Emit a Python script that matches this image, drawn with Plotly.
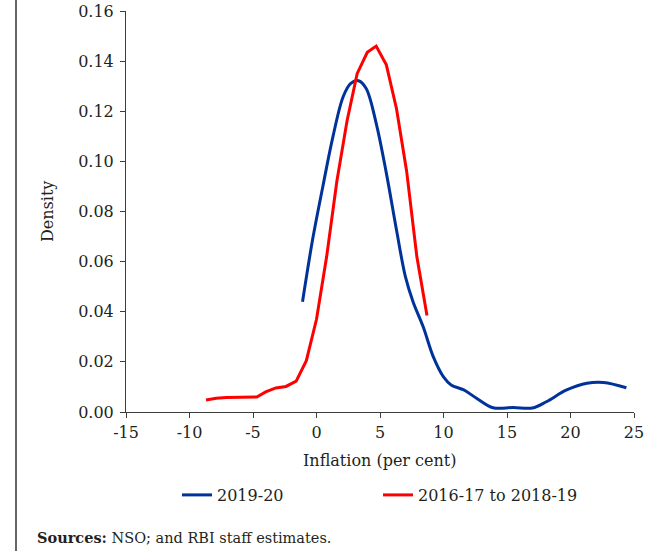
import plotly.graph_objects as go

# ---- data ----
red_name = "2016-17 to 2018-19"
red_x = [-8.7, -7.9, -7.1, -6.3, -5.5, -4.7, -4.0, -3.2, -2.4, -1.6, -0.8, 0.0,
         0.8, 1.6, 2.4, 3.2, 4.0, 4.7, 5.5, 6.3, 7.1, 7.9, 8.7]
red_y = [0.0048, 0.0055, 0.0058, 0.0059, 0.0057, 0.0060, 0.0080, 0.0096, 0.0102,
         0.0123, 0.0205, 0.037, 0.062, 0.092, 0.116, 0.135, 0.1435, 0.146, 0.1385,
         0.121, 0.096, 0.062, 0.0385]

blue_name = "2019-20"
blue_x = [-1.1, -0.3, 0.5, 1.3, 2.1, 2.7, 3.3, 3.9, 4.7, 5.5, 6.3, 7.0, 7.6, 8.4,
          9.2, 10.0, 10.6, 11.6, 12.6, 13.9, 15.5, 17.0, 18.1, 19.7, 21.3, 22.6, 24.4]
blue_y = [0.044, 0.069, 0.090, 0.110, 0.1258, 0.1311, 0.1322, 0.1292, 0.1152, 0.0953,
          0.0726, 0.054, 0.0440, 0.034, 0.022, 0.014, 0.0108, 0.0088, 0.0055, 0.0017,
          0.0018, 0.0016, 0.0041, 0.0088, 0.0115, 0.0118, 0.0097]

x_tickvals = [-15, -10, -5, 0, 5, 10, 15, 20, 25]
x_ticktext = ["-15", "-10", "-5", "0", "5", "10", "15", "20", "25"]
y_tickvals = [0.00, 0.02, 0.04, 0.06, 0.08, 0.10, 0.12, 0.14, 0.16]
y_ticktext = ["0.00", "0.02", "0.04", "0.06", "0.08", "0.10", "0.12", "0.14", "0.16"]

x_title = "Inflation (per cent)"
y_title = "Density"
source_text = "<b>Sources:</b> NSO; and RBI staff estimates."

# ---- figure ----
W, H = 661, 551
L, R, T, B = 126, 27, 11, 139
pw, ph = W - L - R, H - T - B

def px_x(p):  # window pixel -> paper fraction
    return (p - L) / pw

def px_y(p):
    return (H - B - p) / ph

FONT = "DejaVu Serif"
TXT = "#231f20"
AX = "#3c3c3c"

fig = go.Figure()
fig.add_trace(go.Scatter(x=blue_x, y=blue_y, mode="lines", name=blue_name,
                         line=dict(color="#003399", width=3, shape="spline")))
fig.add_trace(go.Scatter(x=red_x, y=red_y, mode="lines", name=red_name,
                         line=dict(color="#ff0000", width=3)))

fig.update_layout(
    width=W, height=H,
    margin=dict(l=L, r=R, t=T, b=B, autoexpand=False),
    paper_bgcolor="white", plot_bgcolor="white",
    font=dict(family=FONT, size=16, color=TXT),
    showlegend=True,
    legend=dict(orientation="h", x=px_x(177), xanchor="left",
                y=px_y(495), yanchor="middle",
                entrywidth=156, entrywidthmode="pixels",
                font=dict(family=FONT, size=16, color=TXT),
                bgcolor="rgba(0,0,0,0)", borderwidth=0,
                traceorder="normal"),
    xaxis=dict(range=[-15, 25], tickvals=x_tickvals, ticktext=x_ticktext,
               ticks="outside", ticklen=5, tickcolor=AX, tickwidth=1,
               showline=True, linecolor=AX, linewidth=1,
               showgrid=False, zeroline=False, automargin=False,
               ticklabelstandoff=1, ticklabeloverflow="allow",
               tickfont=dict(family=FONT, size=16, color=TXT)),
    yaxis=dict(range=[0, 0.16], tickvals=y_tickvals, ticktext=y_ticktext,
               ticks="outside", ticklen=5, tickcolor=AX, tickwidth=1,
               showline=True, linecolor=AX, linewidth=1,
               showgrid=False, zeroline=False, automargin=False,
               ticklabelstandoff=3, ticklabeloverflow="allow",
               tickfont=dict(family=FONT, size=16, color=TXT)),
)

fig.add_annotation(text=x_title, xref="paper", yref="paper",
                   x=px_x(380), y=px_y(460), xanchor="center", yanchor="middle",
                   showarrow=False, font=dict(family=FONT, size=16, color=TXT))
fig.add_annotation(text=y_title, xref="paper", yref="paper",
                   x=px_x(47), y=px_y(212), xanchor="center", yanchor="middle",
                   textangle=-90, showarrow=False,
                   font=dict(family=FONT, size=16, color=TXT))
fig.add_annotation(text=source_text, xref="paper", yref="paper",
                   x=px_x(35), y=px_y(537), xanchor="left", yanchor="middle",
                   showarrow=False, font=dict(family=FONT, size=14.5, color=TXT))

fig.add_shape(type="line", xref="paper", yref="paper",
              x0=px_x(16), x1=px_x(16), y0=px_y(H), y1=px_y(0),
              line=dict(color="black", width=1.2))

# remove the default 8px page margin so the figure fills the window exactly
fig.write_html("out.html",
               config={"displayModeBar": False},
               post_script="document.body.style.margin='0';document.body.style.overflow='hidden';")
